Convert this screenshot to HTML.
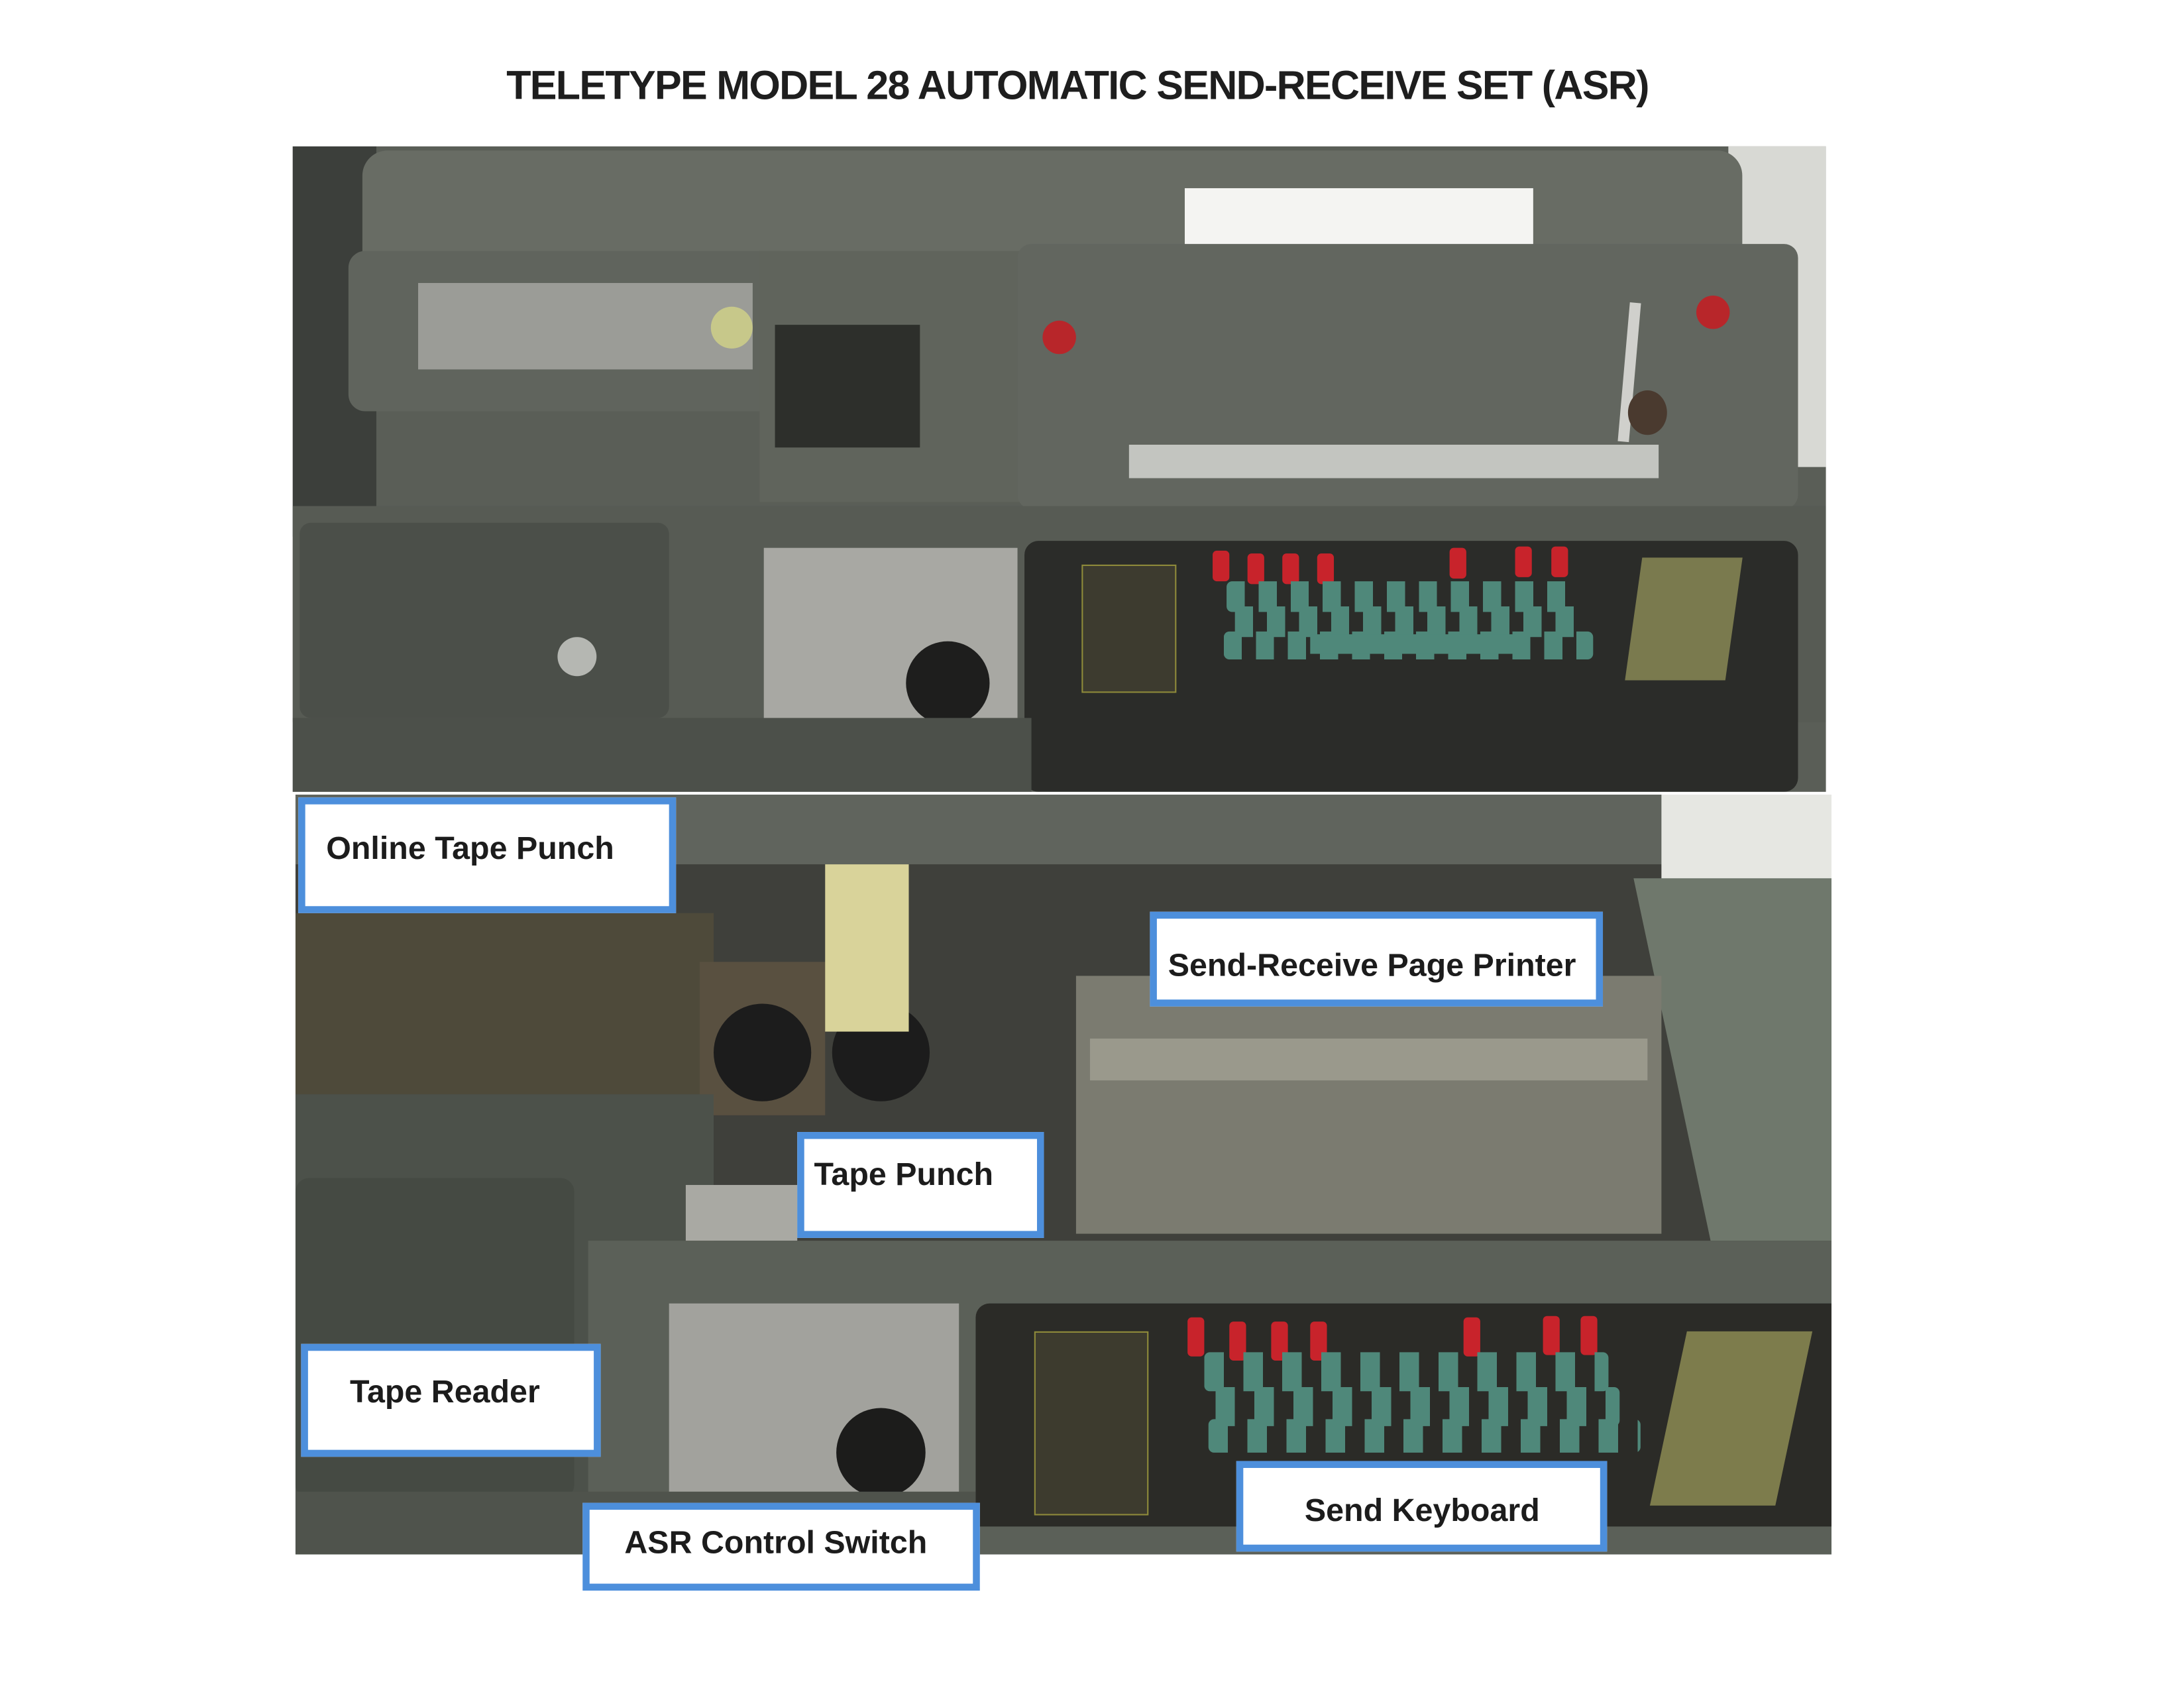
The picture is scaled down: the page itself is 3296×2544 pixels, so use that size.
<!DOCTYPE html>
<html><head><meta charset="utf-8"><style>
html,body{margin:0;padding:0;background:#fff;}
body{width:3296px;height:2544px;overflow:hidden;position:relative;}
#w{position:absolute;left:0;top:0;width:1556px;height:1201px;transform:scale(2.1035);transform-origin:0 0;}
.a{position:absolute;}
.lbl{position:absolute;background:#fff;border:5px solid #4d8fdc;box-sizing:border-box;font-family:"Liberation Sans",sans-serif;font-weight:bold;font-size:23px;color:#1c1c1c;white-space:nowrap;}
.keys{position:absolute;background:repeating-linear-gradient(90deg,#4f887a 0 13px,transparent 13px 23px);border-radius:4px;}
.red{position:absolute;width:12px;height:22px;background:#c8232b;border-radius:3px;}
</style></head><body><div id="w">
<div class="a" style="left:0;top:46px;width:1546px;text-align:center;font-family:'Liberation Sans',sans-serif;font-weight:bold;font-size:29px;color:#1e1e1e;letter-spacing:-0.8px;">TELETYPE MODEL 28 AUTOMATIC SEND-RECEIVE SET (ASR)</div>

<!-- TOP PHOTO -->
<div class="a" style="left:210px;top:105px;width:1100px;height:463px;background:#5a5e57;overflow:hidden;">
 <div class="a" style="left:0;top:0;width:60px;height:280px;background:#3c3f3b;"></div>
 <div class="a" style="left:1030px;top:0;width:70px;height:230px;background:#d8d9d4;"></div>
 <div class="a" style="left:50px;top:3px;width:990px;height:75px;background:#686c64;border-radius:18px 18px 0 0;"></div>
 <div class="a" style="left:640px;top:30px;width:250px;height:52px;background:#f4f4f2;"></div>
 <div class="a" style="left:40px;top:75px;width:320px;height:115px;background:#60645d;border-radius:12px;"></div>
 <div class="a" style="left:90px;top:98px;width:240px;height:62px;background:#9b9c97;"></div>
 <div class="a" style="left:300px;top:115px;width:30px;height:30px;border-radius:50%;background:#c7c88a;"></div>
 <div class="a" style="left:335px;top:75px;width:190px;height:180px;background:#60645c;"></div>
 <div class="a" style="left:346px;top:128px;width:104px;height:88px;background:#2d2f2b;"></div>
 <div class="a" style="left:520px;top:70px;width:560px;height:190px;background:#62665f;border-radius:10px;"></div>
 <div class="a" style="left:538px;top:125px;width:24px;height:24px;border-radius:50%;background:#b8262a;"></div>
 <div class="a" style="left:1007px;top:107px;width:24px;height:24px;border-radius:50%;background:#b8262a;"></div>
 <div class="a" style="left:600px;top:214px;width:380px;height:24px;background:#c3c5c0;"></div>
 <div class="a" style="left:955px;top:112px;width:8px;height:100px;background:#d0d0cc;transform:rotate(5deg);"></div>
 <div class="a" style="left:958px;top:175px;width:28px;height:32px;border-radius:50%;background:#4a3a2f;"></div>
 <div class="a" style="left:0;top:258px;width:1100px;height:155px;background:#575b54;"></div>
 <div class="a" style="left:5px;top:270px;width:265px;height:140px;background:#4b4f49;border-radius:8px;"></div>
 <div class="a" style="left:190px;top:352px;width:28px;height:28px;border-radius:50%;background:#b5b7b2;"></div>
 <div class="a" style="left:338px;top:288px;width:182px;height:124px;background:#a8a8a3;"></div>
 <div class="a" style="left:440px;top:355px;width:60px;height:60px;border-radius:50%;background:#1e1e1d;"></div>
 <div class="a" style="left:525px;top:283px;width:555px;height:180px;background:#2b2c29;border-radius:10px;"></div>
 <div class="a" style="left:566px;top:300px;width:66px;height:90px;background:#3d3b2f;border:1px solid #8e8a3a;"></div>
 <div class="a" style="left:962px;top:295px;width:72px;height:88px;background:#7a7a4e;transform:skewX(-8deg);"></div>
 <div class="red" style="left:660px;top:290px"></div><div class="red" style="left:685px;top:292px"></div><div class="red" style="left:710px;top:292px"></div><div class="red" style="left:735px;top:292px"></div><div class="red" style="left:830px;top:288px"></div><div class="red" style="left:877px;top:287px"></div><div class="red" style="left:903px;top:287px"></div>
 <div class="keys" style="left:670px;top:312px;width:250px;height:22px;"></div>
 <div class="keys" style="left:676px;top:330px;width:250px;height:22px;"></div>
 <div class="keys" style="left:668px;top:348px;width:265px;height:20px;"></div>
 <div class="a" style="left:730px;top:350px;width:150px;height:14px;background:#4f887a;"></div>
 <div class="a" style="left:0;top:410px;width:530px;height:53px;background:#4c504a;"></div>
</div>

<!-- BOTTOM PHOTO -->
<div class="a" style="left:212px;top:570px;width:1102px;height:545px;background:#3f403b;overflow:hidden;">
 <div class="a" style="left:0;top:0;width:1102px;height:50px;background:#60645d;"></div>
 <div class="a" style="left:980px;top:0;width:122px;height:120px;background:#e6e7e2;"></div>
 <div class="a" style="left:960px;top:60px;width:142px;height:260px;background:#6f786c;transform:skewX(12deg);transform-origin:0 0;"></div>
 <div class="a" style="left:0;top:85px;width:300px;height:135px;background:#4e4a3a;"></div>
 <div class="a" style="left:290px;top:120px;width:90px;height:110px;background:#595040;"></div>
 <div class="a" style="left:300px;top:150px;width:70px;height:70px;border-radius:50%;background:#1c1c1c;"></div>
 <div class="a" style="left:385px;top:150px;width:70px;height:70px;border-radius:50%;background:#1c1c1c;"></div>
 <div class="a" style="left:380px;top:50px;width:60px;height:120px;background:#d9d39a;"></div>
 <div class="a" style="left:560px;top:130px;width:420px;height:185px;background:#7b7b70;"></div>
 <div class="a" style="left:570px;top:175px;width:400px;height:30px;background:#9a998c;"></div>
 <div class="a" style="left:0;top:215px;width:300px;height:330px;background:#4c514a;"></div>
 <div class="a" style="left:0;top:275px;width:200px;height:230px;background:#454a43;border-radius:10px;"></div>
 <div class="a" style="left:280px;top:280px;width:80px;height:40px;background:#a9a9a3;"></div>
 <div class="a" style="left:210px;top:320px;width:892px;height:225px;background:#5b6058;"></div>
 <div class="a" style="left:268px;top:365px;width:208px;height:140px;background:#a2a29d;"></div>
 <div class="a" style="left:388px;top:440px;width:64px;height:64px;border-radius:50%;background:#1c1c1b;"></div>
 <div class="a" style="left:488px;top:365px;width:614px;height:160px;background:#2b2b27;border-radius:10px 0 0 0;"></div>
 <div class="a" style="left:530px;top:385px;width:80px;height:130px;background:#3d3b2e;border:1px solid #8e8a3a;"></div>
 <div class="a" style="left:985px;top:385px;width:90px;height:125px;background:#7d7c4c;transform:skewX(-12deg);"></div>
 <div class="red" style="left:640px;top:375px;height:28px"></div><div class="red" style="left:670px;top:378px;height:28px"></div><div class="red" style="left:700px;top:378px;height:28px"></div><div class="red" style="left:728px;top:378px;height:28px"></div><div class="red" style="left:838px;top:375px;height:28px"></div><div class="red" style="left:895px;top:374px;height:28px"></div><div class="red" style="left:922px;top:374px;height:28px"></div>
 <div class="keys" style="background:repeating-linear-gradient(90deg,#4f887a 0 14px,transparent 14px 28px);left:652px;top:400px;width:290px;height:28px;"></div>
 <div class="keys" style="background:repeating-linear-gradient(90deg,#4f887a 0 14px,transparent 14px 28px);left:660px;top:425px;width:290px;height:28px;"></div>
 <div class="keys" style="background:repeating-linear-gradient(90deg,#4f887a 0 14px,transparent 14px 28px);left:655px;top:448px;width:310px;height:24px;"></div>
 <div class="a" style="left:0;top:500px;width:488px;height:45px;background:#4f534c;"></div>
</div>

<div class="lbl" style="left:214px;top:572px;width:271px;height:83px;padding:18px 0 0 15px;">Online Tape Punch</div>
<div class="lbl" style="left:825px;top:654px;width:325px;height:68px;padding:20px 0 0 8px;">Send-Receive Page Printer</div>
<div class="lbl" style="left:572px;top:812px;width:177px;height:76px;padding:12px 0 0 7px;">Tape Punch</div>
<div class="lbl" style="left:216px;top:964px;width:215px;height:81px;padding:16px 0 0 30px;">Tape Reader</div>
<div class="lbl" style="left:418px;top:1078px;width:285px;height:63px;padding:10px 0 0 25px;">ASR Control Switch</div>
<div class="lbl" style="left:887px;top:1048px;width:266px;height:65px;padding:17px 0 0 44px;">Send Keyboard</div>
</div></body></html>
